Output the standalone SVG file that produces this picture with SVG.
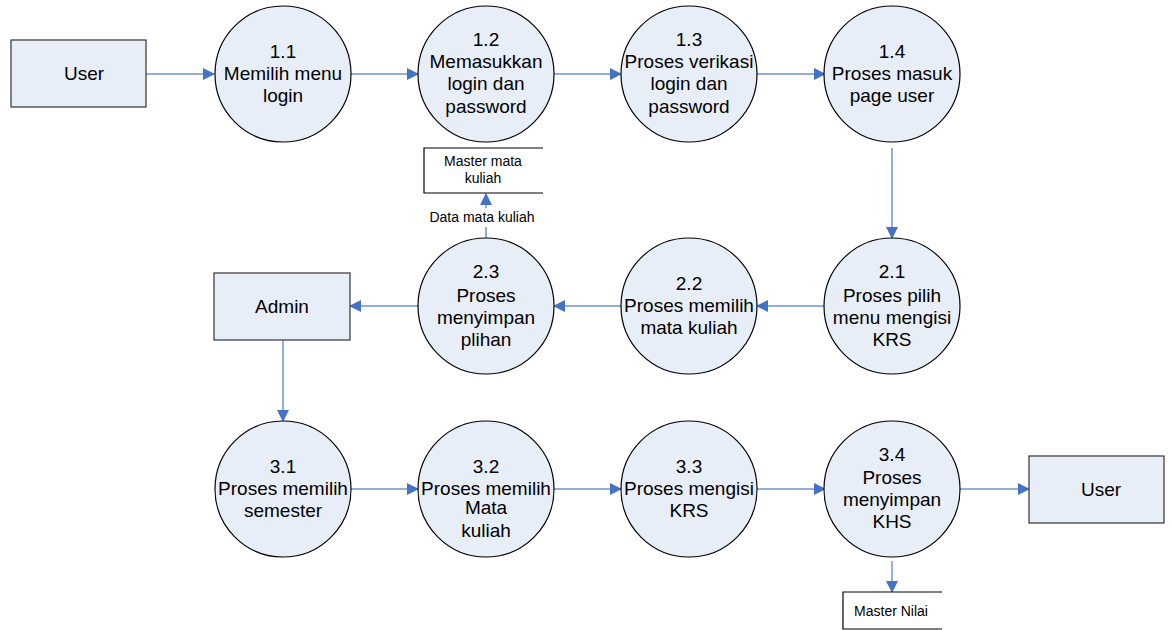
<svg xmlns="http://www.w3.org/2000/svg" width="1171" height="630" viewBox="0 0 1171 630">
<defs>
<marker id="ah" markerWidth="12" markerHeight="12" refX="11" refY="6" orient="auto" markerUnits="userSpaceOnUse">
<path d="M0,0 L12,6 L0,12 Z" fill="#4472C4"/>
</marker>
<style>
.p{fill:#E8EEF8;stroke:#000;stroke-width:1.2}
.e{fill:#E8EEF8;stroke:#333;stroke-width:1.2}
.s{fill:#fff;stroke:#000;stroke-width:1.2}
.t{font-family:"Liberation Sans",Arial,sans-serif;font-size:19px;text-anchor:middle;fill:#000}
.st{font-family:"Liberation Sans",Arial,sans-serif;font-size:14px;text-anchor:middle;fill:#000}
.c{stroke:#6F93CF;stroke-width:1.5;fill:none;marker-end:url(#ah)}
.l{stroke:#6F93CF;stroke-width:1.5;fill:none}
</style>
</defs>
<rect width="1171" height="630" fill="#fff"/>
<g id="connectors">
<line class="c" x1="146" y1="74" x2="214" y2="74"/>
<line class="c" x1="351" y1="74" x2="418" y2="74"/>
<line class="c" x1="554" y1="74" x2="621" y2="74"/>
<line class="c" x1="757" y1="74" x2="825" y2="74"/>
<line class="c" x1="892" y1="148" x2="892" y2="238"/>
<line class="c" x1="825" y1="306" x2="757" y2="306"/>
<line class="c" x1="621" y1="306" x2="554" y2="306"/>
<line class="c" x1="418" y1="306" x2="350" y2="306"/>
<line class="l" x1="486" y1="238" x2="486" y2="227"/>
<line class="c" x1="486" y1="208" x2="486" y2="194"/>
<line class="c" x1="283" y1="340" x2="283" y2="421"/>
<line class="c" x1="351" y1="489" x2="418" y2="489"/>
<line class="c" x1="554" y1="489" x2="621" y2="489"/>
<line class="c" x1="757" y1="489" x2="825" y2="489"/>
<line class="c" x1="960" y1="489" x2="1029" y2="489"/>
<line class="c" x1="892" y1="561" x2="892" y2="592"/>
<text class="st" x="482" y="222">Data mata kuliah</text>
</g>
<g id="user1"><rect class="e" x="11" y="40" width="135" height="67"/><text class="t" x="84" y="80">User</text></g>
<g id="p1_1"><circle class="p" cx="283" cy="74" r="68"/><text class="t" x="283" y="58">1.1</text><text class="t" x="283" y="80">Memilih menu</text><text class="t" x="283" y="102">login</text></g>
<g id="p1_2"><circle class="p" cx="486" cy="74" r="68"/><text class="t" x="486" y="46">1.2</text><text class="t" x="486" y="68">Memasukkan</text><text class="t" x="486" y="90">login dan</text><text class="t" x="486" y="113">password</text></g>
<g id="p1_3"><circle class="p" cx="689" cy="74" r="68"/><text class="t" x="689" y="46">1.3</text><text class="t" x="689" y="68">Proses verikasi</text><text class="t" x="689" y="90">login dan</text><text class="t" x="689" y="113">password</text></g>
<g id="p1_4"><circle class="p" cx="892" cy="74" r="68"/><text class="t" x="892" y="58">1.4</text><text class="t" x="892" y="80">Proses masuk</text><text class="t" x="892" y="102">page user</text></g>
<g id="ds_mk"><path class="s" d="M543,148 H424 V193 H543" fill="#fff"/><text class="st" x="483" y="166">Master mata</text><text class="st" x="483" y="183">kuliah</text></g>
<g id="admin"><rect class="e" x="214" y="273" width="136" height="67"/><text class="t" x="282" y="313">Admin</text></g>
<g id="p2_3"><circle class="p" cx="486" cy="306" r="68"/><text class="t" x="486" y="278">2.3</text><text class="t" x="486" y="302">Proses</text><text class="t" x="486" y="324">menyimpan</text><text class="t" x="486" y="346">plihan</text></g>
<g id="p2_2"><circle class="p" cx="689" cy="306" r="68"/><text class="t" x="689" y="290">2.2</text><text class="t" x="689" y="312">Proses memilih</text><text class="t" x="689" y="334">mata kuliah</text></g>
<g id="p2_1"><circle class="p" cx="892" cy="306" r="68"/><text class="t" x="892" y="278">2.1</text><text class="t" x="892" y="302">Proses pilih</text><text class="t" x="892" y="324">menu mengisi</text><text class="t" x="892" y="346">KRS</text></g>
<g id="p3_1"><circle class="p" cx="283" cy="489" r="68"/><text class="t" x="283" y="473">3.1</text><text class="t" x="283" y="495">Proses memilih</text><text class="t" x="283" y="517">semester</text></g>
<g id="p3_2"><circle class="p" cx="486" cy="489" r="68"/><text class="t" x="486" y="473">3.2</text><text class="t" x="486" y="495">Proses memilih</text><text class="t" x="486" y="514">Mata</text><text class="t" x="486" y="537">kuliah</text></g>
<g id="p3_3"><circle class="p" cx="689" cy="489" r="68"/><text class="t" x="689" y="473">3.3</text><text class="t" x="689" y="495">Proses mengisi</text><text class="t" x="689" y="517">KRS</text></g>
<g id="p3_4"><circle class="p" cx="892" cy="489" r="68"/><text class="t" x="892" y="461">3.4</text><text class="t" x="892" y="484">Proses</text><text class="t" x="892" y="506">menyimpan</text><text class="t" x="892" y="528">KHS</text></g>
<g id="user2"><rect class="e" x="1029" y="456" width="135" height="67"/><text class="t" x="1101" y="496">User</text></g>
<g id="ds_nilai"><path class="s" d="M942,592 H843 V629 H942" fill="#fff"/><text class="st" x="891" y="616">Master Nilai</text></g>
</svg>
